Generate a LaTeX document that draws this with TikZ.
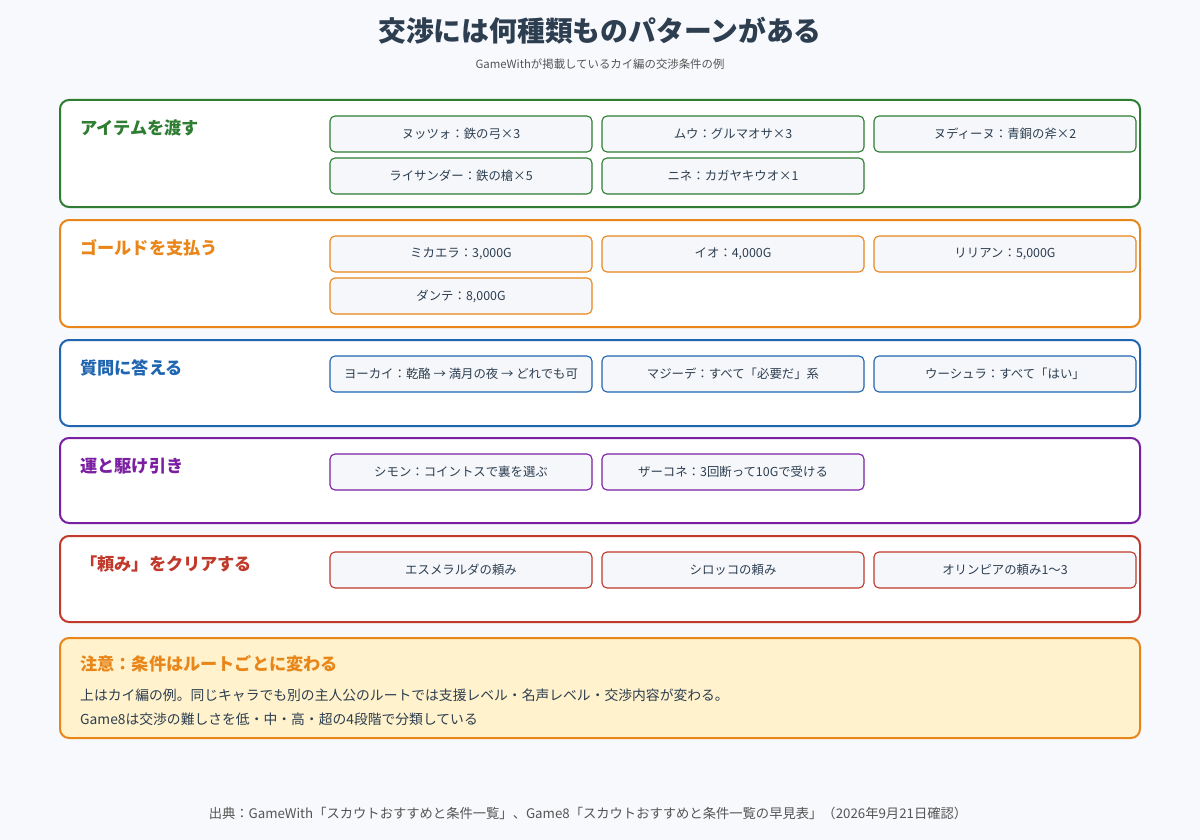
\documentclass[tikz,border=0pt]{standalone}
\usepackage{fontspec}
\setmainfont{Noto Sans CJK JP}
\definecolor{bg}{HTML}{F8F9FC}
\definecolor{cg}{HTML}{2E7D32}
\definecolor{co}{HTML}{E8861A}
\definecolor{cb}{HTML}{1F65B0}
\definecolor{cp}{HTML}{7B1FA2}
\definecolor{cr}{HTML}{C0392B}
\definecolor{chip}{HTML}{F6F7FA}
\definecolor{note}{HTML}{FFF2CC}
\definecolor{tx}{HTML}{2C3E50}
\definecolor{gr}{HTML}{555555}
\begin{document}
\begin{tikzpicture}[x=1pt,y=-1pt,
 sec/.style={draw=#1,line width=2pt,rounded corners=9pt,fill=white},
 stitle/.style={anchor=west,inner sep=0pt,text=#1,font=\fontsize{17.2}{19}\selectfont\bfseries},
 chipn/.style={draw=#1,line width=1.1pt,rounded corners=5pt,fill=chip,minimum width=262pt,minimum height=36pt,inner sep=0pt,font=\fontsize{12.4}{14}\selectfont,text=tx}]
\fill[bg] (0,0) rectangle (1200,840);
\useasboundingbox (0,0) rectangle (1200,840);
\node[text=tx,font=\fontsize{27.8}{30}\selectfont\bfseries] (title) at (600,31) {交渉には何種類ものパターンがある};
\node[text=gr,font=\fontsize{11.4}{14}\selectfont] (sub) at (600,64) {GameWithが掲載しているカイ編の交渉条件の例};
% sections
\draw[sec=cg] (60,100) rectangle (1140,207);
\node[stitle=cg] (s1) at (80,128) {アイテムを渡す};
\draw[sec=co] (60,220) rectangle (1140,327);
\node[stitle=co] (s2) at (80,248) {ゴールドを支払う};
\draw[sec=cb] (60,340) rectangle (1140,426);
\node[stitle=cb] (s3) at (80,368) {質問に答える};
\draw[sec=cp] (60,438) rectangle (1140,523);
\node[stitle=cp] (s4) at (80,466) {運と駆け引き};
\draw[sec=cr] (60,536) rectangle (1140,622);
\node[stitle=cr] (s5) at (80,564) {「頼み」をクリアする};
% chips
\node[chipn=cg] (a1) at (461,134) {ヌッツォ：鉄の弓×3};
\node[chipn=cg] (a2) at (733,134) {ムウ：グルマオサ×3};
\node[chipn=cg] (a3) at (1005,134) {ヌディーヌ：青銅の斧×2};
\node[chipn=cg] (a4) at (461,176) {ライサンダー：鉄の槍×5};
\node[chipn=cg] (a5) at (733,176) {ニネ：カガヤキウオ×1};
\node[chipn=co] (b1) at (461,254) {ミカエラ：3,000G};
\node[chipn=co] (b2) at (733,254) {イオ：4,000G};
\node[chipn=co] (b3) at (1005,254) {リリアン：5,000G};
\node[chipn=co] (b4) at (461,296) {ダンテ：8,000G};
\node[chipn=cb] (c1) at (461,374) {ヨーカイ：乾酪 → 満月の夜 → どれでも可};
\node[chipn=cb] (c2) at (733,374) {マジーデ：すべて「必要だ」系};
\node[chipn=cb] (c3) at (1005,374) {ウーシュラ：すべて「はい」};
\node[chipn=cp] (d1) at (461,472) {シモン：コイントスで裏を選ぶ};
\node[chipn=cp] (d2) at (733,472) {ザーコネ：3回断って10Gで受ける};
\node[chipn=cr] (e1) at (461,570) {エスメラルダの頼み};
\node[chipn=cr] (e2) at (733,570) {シロッコの頼み};
\node[chipn=cr] (e3) at (1005,570) {オリンピアの頼み1〜3};
% note
\draw[draw=co,line width=2pt,rounded corners=9pt,fill=note] (60,638) rectangle (1140,738);
\node[stitle=co] (n1) at (80,664) {注意：条件はルートごとに変わる};
\node[anchor=west,inner sep=0pt,text=tx,font=\fontsize{13.8}{15}\selectfont] (n2) at (80,695) {上はカイ編の例。同じキャラでも別の主人公のルートでは支援レベル・名声レベル・交渉内容が変わる。};
\node[anchor=west,inner sep=0pt,text=tx,font=\fontsize{13.8}{15}\selectfont] (n3) at (80,719) {Game8は交渉の難しさを低・中・高・超の4段階で分類している};
\node[text=gr,font=\fontsize{13.3}{14}\selectfont] (src) at (588,813) {出典：GameWith「スカウトおすすめと条件一覧」、Game8「スカウトおすすめと条件一覧の早見表」（2026年9月21日確認）};
\end{tikzpicture}
\end{document}
